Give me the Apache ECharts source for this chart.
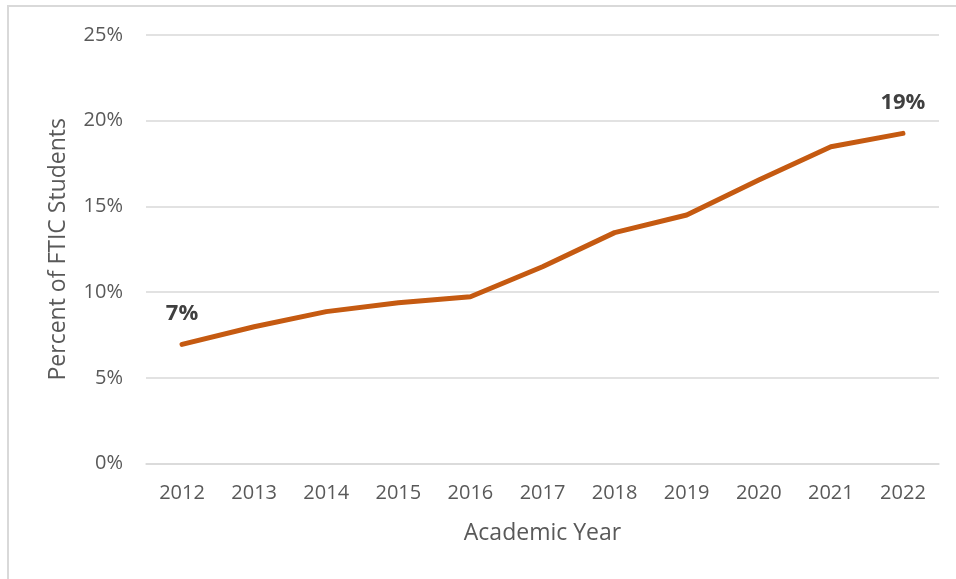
<!DOCTYPE html>
<html>
<head>
<meta charset="utf-8">
<script src="https://cdn.jsdelivr.net/npm/echarts@6/dist/echarts.min.js"></script>
<style>
html,body{margin:0;padding:0;background:#fff;}
#chart{width:956px;height:579px;}
</style>
</head>
<body>
<div id="chart"></div>
<script>
var years = ['2012','2013','2014','2015','2016','2017','2018','2019','2020','2021','2022'];
var percentFTIC = [6.95, 7.98, 8.86, 9.38, 9.73, 11.48, 13.47, 14.5, 16.54, 18.48, 19.26];
var labeledPoints = {0: '7%', 10: '19%'};
var yTicks = [0, 5, 10, 15, 20, 25];

var chart = echarts.init(document.getElementById('chart'), null, {renderer: 'canvas'});
var font = '"Open Sans", "Noto Sans", sans-serif';
var option = {
  backgroundColor: '#ffffff',
  animation: false,
  graphic: [{
    type: 'rect',
    shape: {x: 8, y: 6, width: 1000, height: 1000},
    style: {fill: 'none', stroke: '#d9d9d9', lineWidth: 2},
    silent: true
  }],
  grid: {left: 146, right: 17, top: 35, bottom: 115.5, containLabel: false},
  xAxis: {
    type: 'category',
    data: years,
    boundaryGap: true,
    name: 'Academic Year',
    nameLocation: 'middle',
    nameGap: 58,
    nameTextStyle: {fontFamily: font, fontSize: 23, color: '#595959'},
    axisLine: {show: true, lineStyle: {color: '#d9d9d9', width: 1.5}},
    axisTick: {show: false},
    axisLabel: {fontFamily: font, fontSize: 20, color: '#595959', margin: 20}
  },
  yAxis: {
    type: 'value',
    min: yTicks[0],
    max: yTicks[yTicks.length - 1],
    interval: 5,
    name: 'Percent of FTIC Students',
    nameLocation: 'middle',
    nameGap: 76,
    nameTextStyle: {fontFamily: font, fontSize: 23, color: '#595959'},
    axisLine: {show: false},
    axisTick: {show: false},
    splitLine: {lineStyle: {color: '#d9d9d9', width: 1.5}},
    axisLabel: {fontFamily: font, fontSize: 20, color: '#595959', margin: 23, formatter: '{value}%'}
  },
  series: [{
    type: 'line',
    data: percentFTIC.map(function (v, i) {
      var d = {value: v};
      if (labeledPoints[i]) {
        d.label = {show: true, formatter: labeledPoints[i]};
      }
      return d;
    }),
    showSymbol: true,
    symbol: 'circle',
    symbolSize: 2,
    lineStyle: {color: '#C55A11', width: 5, cap: 'round', join: 'round'},
    itemStyle: {color: '#C55A11'},
    label: {
      show: false,
      position: 'top',
      distance: 19,
      fontFamily: font,
      fontSize: 22,
      fontWeight: 'bold',
      color: '#404040'
    }
  }]
};
chart.setOption(option);
</script>
</body>
</html>
